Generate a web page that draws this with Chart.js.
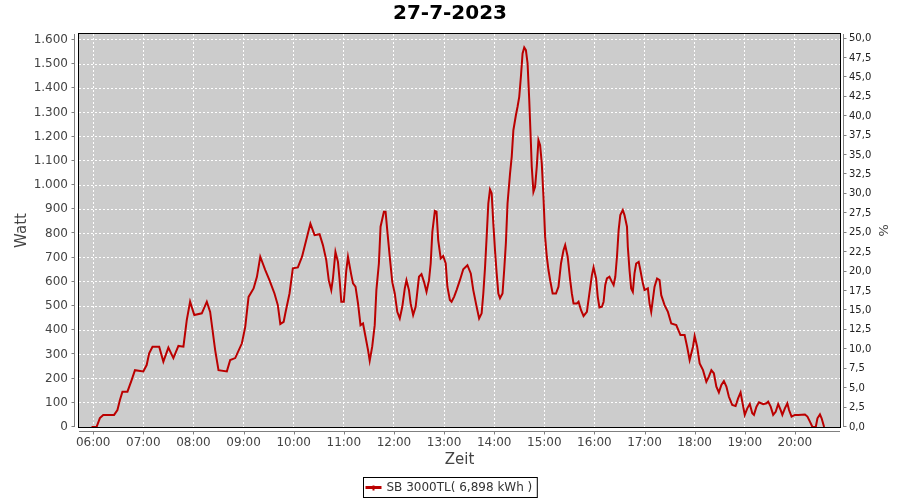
<!DOCTYPE html>
<html>
<head>
<meta charset="utf-8">
<title>27-7-2023</title>
<script src="https://cdn.jsdelivr.net/npm/chart.js@4/dist/chart.umd.min.js"></script>
<style>
  html, body { margin: 0; padding: 0; background: #fff; }
  #wrap { width: 900px; height: 500px; }
</style>
</head>
<body>
<div id="wrap"><canvas id="myChart" width="900" height="500"></canvas></div>
<script>
"use strict"
const times = ['05:58','06:04','06:08','06:12','06:25','06:29','06:32','06:35','06:41','06:46','06:50','07:00','07:04','07:07','07:11','07:19','07:24','07:30','07:36','07:42','07:48','07:52','07:56','08:01','08:10','08:16','08:20','08:26','08:30','08:40','08:44','08:50','08:58','09:02','09:06','09:12','09:16','09:20','09:26','09:31','09:37','09:41','09:44','09:48','09:50','09:55','09:59','10:05','10:10','10:13','10:17','10:20','10:25','10:31','10:35','10:39','10:42','10:45','10:47','10:50','10:53','10:55','10:57','11:00','11:03','11:05','11:09','11:11','11:14','11:17','11:20','11:23','11:26','11:29','11:31','11:34','11:37','11:39','11:42','11:44','11:48','11:50','11:52','11:55','11:58','12:01','12:04','12:07','12:10','12:13','12:15','12:18','12:20','12:23','12:26','12:28','12:30','12:33','12:36','12:39','12:42','12:44','12:46','12:49','12:51','12:53','12:56','12:59','13:02','13:04','13:07','13:09','13:12','13:15','13:19','13:23','13:28','13:32','13:35','13:39','13:42','13:45','13:47','13:49','13:51','13:53','13:55','13:57','13:59','14:01','14:03','14:05','14:07','14:10','14:12','14:14','14:16','14:19','14:21','14:23','14:26','14:28','14:30','14:32','14:34','14:36','14:38','14:40','14:42','14:44','14:45','14:47','14:49','14:51','14:53','14:55','14:57','14:59','15:01','15:03','15:05','15:07','15:10','15:14','15:17','15:20','15:23','15:25','15:28','15:31','15:33','15:35','15:39','15:41','15:44','15:47','15:51','15:54','15:57','15:59','16:02','16:04','16:06','16:09','16:11','16:13','16:15','16:18','16:21','16:23','16:25','16:27','16:29','16:31','16:34','16:36','16:39','16:40','16:42','16:44','16:46','16:48','16:50','16:53','16:55','16:58','17:00','17:04','17:06','17:08','17:12','17:15','17:18','17:20','17:24','17:28','17:32','17:38','17:43','17:48','17:51','17:54','17:58','18:00','18:03','18:06','18:10','18:14','18:17','18:20','18:23','18:26','18:29','18:32','18:35','18:38','18:41','18:45','18:49','18:52','18:55','18:57','19:00','19:03','19:06','19:09','19:11','19:14','19:17','19:22','19:26','19:28','19:31','19:34','19:37','19:40','19:43','19:45','19:48','19:51','19:53','19:56','20:00','20:04','20:12','20:15','20:18','20:21','20:25','20:27','20:30','20:32','20:35'];
const watts = [0,0,37,50,50,70,112,146,146,194,235,230,256,305,332,332,270,328,285,335,332,442,518,463,470,518,476,318,235,230,277,285,346,414,538,573,621,704,649,607,552,504,426,435,470,552,656,660,704,745,800,841,793,797,752,690,607,566,614,724,683,607,518,518,649,704,628,594,580,511,421,428,373,318,274,332,421,566,676,828,890,890,814,704,600,552,476,449,497,573,607,566,511,463,497,559,621,632,600,559,607,676,807,893,890,773,697,707,676,580,525,518,538,566,607,652,669,635,566,497,449,470,552,656,786,924,982,966,841,731,635,552,532,552,649,759,924,1048,1117,1227,1289,1324,1365,1448,1544,1569,1558,1503,1351,1172,1076,972,993,1076,1186,1165,1090,952,786,704,649,607,552,552,580,676,731,752,704,607,552,511,511,518,483,459,476,552,628,660,614,538,494,497,518,587,614,621,600,587,621,704,814,876,897,876,828,745,649,573,559,635,676,683,649,594,566,573,511,476,580,614,607,545,504,476,428,421,380,380,332,277,332,376,332,263,235,187,208,235,222,167,143,174,190,167,125,91,87,118,143,105,50,77,95,57,50,84,102,94,98,105,84,50,63,95,70,50,77,98,70,43,50,50,52,43,22,0,0,36,52,36,0];

const hourLabels = ['06:00','07:00','08:00','09:00','10:00','11:00','12:00','13:00','14:00','15:00','16:00','17:00','18:00','19:00','20:00'];
const wattTicks = [0,100,200,300,400,500,600,700,800,900,1000,1100,1200,1300,1400,1500,1600];
const percentTicks = [0,2.5,5,7.5,10,12.5,15,17.5,20,22.5,25,27.5,30,32.5,35,37.5,40,42.5,45,47.5,50];

const seriesName = 'SB 3000TL( 6,898 kWh )';
const lineColor = '#bb0000';

function toMin(t) { // "HH:MM" -> Minuten seit Mitternacht
    let p = t.split(':');
    return parseInt(p[0]) * 60 + parseInt(p[1]);
}
function fmtTime(m) {
    let h = Math.floor(m / 60), mm = Math.round(m % 60);
    return String(h).padStart(2, '0') + ':' + String(mm).padStart(2, '0');
}
function fmtWatt(v) { // deutsches Tausendertrennzeichen
    return String(v).replace(/\B(?=(\d{3})+(?!\d))/g, '.');
}

let points = times.map((t, i) => ({x: toMin(t), y: watts[i]}));

// Hintergrund, Rahmen, Achsenlinien und Legende selbst zeichnen
const plotDeko = {
    id: 'plotDeko',
    beforeDraw(chart) {
        const {ctx, chartArea: a} = chart;
        ctx.save();
        ctx.fillStyle = '#cccccc';
        ctx.fillRect(a.left, a.top, a.right - a.left, a.bottom - a.top);
        ctx.restore();
    },
    afterDraw(chart) {
        const {ctx, chartArea: a, scales} = chart;
        ctx.save();
        // Rahmen
        ctx.strokeStyle = '#000';
        ctx.lineWidth = 1;
        ctx.strokeRect(a.left - 0.5, a.top - 0.5, a.right - a.left + 1, a.bottom - a.top + 1);
        // Achsen
        ctx.strokeStyle = '#808080';
        ctx.beginPath();
        let lx = a.left - 4.5;
        ctx.moveTo(lx, a.top); ctx.lineTo(lx, a.bottom);
        scales.y.ticks.forEach(t => {
            let py = Math.round(scales.y.getPixelForValue(t.value)) - 0.5;
            ctx.moveTo(lx - 3, py); ctx.lineTo(lx, py);
        });
        let rx = a.right + 3.5;
        ctx.moveTo(rx, a.top); ctx.lineTo(rx, a.bottom);
        scales.y2.ticks.forEach(t => {
            let py = Math.round(scales.y2.getPixelForValue(t.value)) - 0.5;
            ctx.moveTo(rx, py); ctx.lineTo(rx + 3, py);
        });
        let by = a.bottom + 4.5;
        ctx.moveTo(a.left, by); ctx.lineTo(a.right, by);
        scales.x.ticks.forEach(t => {
            let px = Math.round(scales.x.getPixelForValue(t.value)) + 0.5;
            ctx.moveTo(px, by); ctx.lineTo(px, by + 3);
        });
        ctx.stroke();

        // Legende
        ctx.font = '12px "DejaVu Sans"';
        let label = chart.data.datasets[0].label;
        let tw = ctx.measureText(label).width;
        let bw = tw + 28, bh = 20;
        let bx = Math.round(450 - bw / 2) + 0.5, byy = 477.5;
        ctx.strokeStyle = '#000';
        ctx.strokeRect(bx, byy, bw, bh);
        ctx.strokeStyle = lineColor;
        ctx.lineWidth = 3;
        ctx.beginPath();
        ctx.moveTo(bx + 2, byy + 10); ctx.lineTo(bx + 18, byy + 10);
        ctx.stroke();
        ctx.fillStyle = lineColor;
        ctx.fillRect(bx + 9, byy + 8, 2, 5);
        ctx.fillStyle = '#333';
        ctx.textBaseline = 'middle';
        ctx.fillText(label, bx + 23, byy + 10.5);
        ctx.restore();
    }
};

const config = {
    type: 'line',
    data: {
        datasets: [{
            label: seriesName,
            data: points,
            borderColor: lineColor,
            borderWidth: 2,
            pointRadius: 0,
            tension: 0,
            fill: false,
            yAxisID: 'y'
        }]
    },
    options: {
        responsive: false,
        animation: false,
        layout: {padding: {top: 0, left: 0, right: 0, bottom: 23}},
        plugins: {
            legend: {display: false},
            tooltip: {enabled: false},
            title: {
                display: true,
                text: '27-7-2023',
                color: '#000',
                font: {family: 'DejaVu Sans', size: 20, weight: 'bold'},
                padding: {top: 2, bottom: 8}
            }
        },
        scales: {
            x: {
                type: 'linear',
                min: 343,
                max: 1254,
                afterBuildTicks: (axis) => { axis.ticks = hourLabels.map(h => ({value: toMin(h)})); },
                afterFit: (axis) => { axis.height = 50; },
                ticks: {
                    callback: (v) => fmtTime(v),
                    color: '#444',
                    font: {family: 'DejaVu Sans', size: 12},
                    padding: 9,
                    maxRotation: 0,
                    autoSkip: false
                },
                grid: {color: '#ffffff', lineWidth: 1, drawTicks: false, borderDash: [2, 2]},
                border: {display: false, dash: [2, 2]},
                title: {display: true, text: 'Zeit', color: '#444', font: {family: 'DejaVu Sans', size: 15}, padding: {top: 0, bottom: 8}}
            },
            y: {
                position: 'left',
                min: 0,
                max: 1624.8,
                afterBuildTicks: (axis) => { axis.ticks = wattTicks.map(v => ({value: v})); },
                afterFit: (axis) => { axis.width = 79; },
                ticks: {
                    callback: (v) => fmtWatt(v),
                    color: '#444',
                    font: {family: 'DejaVu Sans', size: 12},
                    padding: 11
                },
                grid: {color: '#ffffff', lineWidth: 1, drawTicks: false, borderDash: [2, 2]},
                border: {display: false, dash: [2, 2]},
                title: {display: true, text: 'Watt', color: '#444', font: {family: 'DejaVu Sans', size: 15}, padding: {top: 13, bottom: 0}}
            },
            y2: {
                position: 'right',
                min: 0,
                max: 50.58,
                afterBuildTicks: (axis) => { axis.ticks = percentTicks.map(v => ({value: v})); },
                afterFit: (axis) => { axis.width = 60; },
                ticks: {
                    callback: (v) => v.toFixed(1).replace('.', ','),
                    color: '#222',
                    font: {family: 'DejaVu Sans', size: 10},
                    padding: 9
                },
                grid: {display: false, drawTicks: false},
                border: {display: false},
                title: {display: true, text: '%', color: '#444', font: {family: 'DejaVu Sans', size: 13}, padding: {top: 10, bottom: 0}}
            }
        }
    },
    plugins: [plotDeko]
};

let my_chart = new Chart(document.getElementById('myChart'), config);
</script>
</body>
</html>
